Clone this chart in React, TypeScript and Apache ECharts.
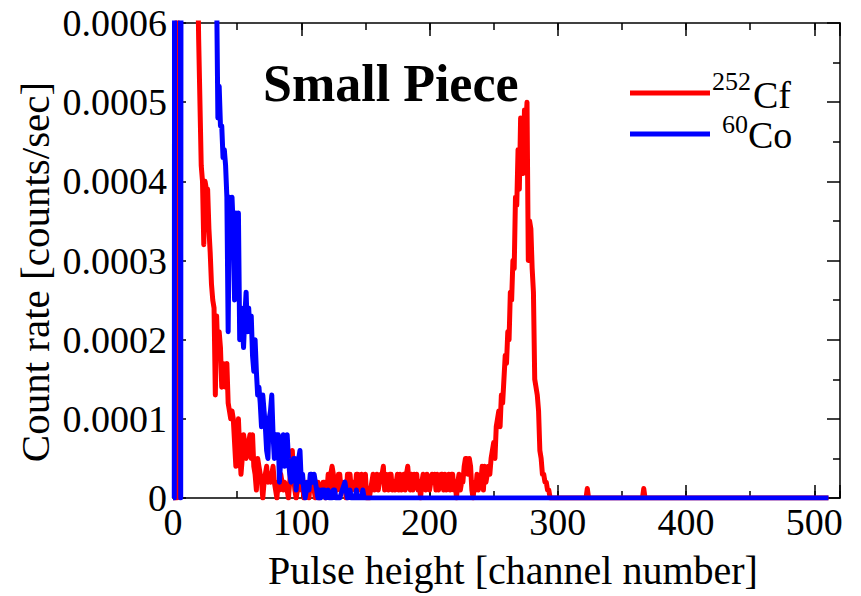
import React, { useEffect, useRef } from "react";
import * as echarts from "echarts";

// ---- data ----
const xTicks = [0, 100, 200, 300, 400, 500];
const yTicks = [0, 0.0001, 0.0002, 0.0003, 0.0004, 0.0005, 0.0006];

// 252Cf: [channel, count rate]
const cfSpectrum: [number, number][] = [
  [0, 0], [3, 0], [4, 0.003], [17, 0.0009], [20, 0.00058], [21, 0.0005], [22, 0.00042], [23, 0.0004],
  [24, 0.00032], [25, 0.0004], [26, 0.00039], [27, 0.00039], [28, 0.00034], [29, 0.00031], [30, 0.00027],
  [31, 0.00025], [32, 0.00024], [33, 0.00013], [34, 0.00023], [35, 0.00018], [36, 0.00021], [37, 0.00019],
  [38, 0.00014], [39, 0.00017], [40, 0.00016], [41, 0.00014], [42, 0.00017], [43, 0.00012], [44, 0.00011],
  [45, 0.0001], [46, 0.00011], [47, 0.0001], [48, 0.00007], [49, 0.00004], [50, 0.00006], [51, 0.0001],
  [52, 0.00006], [53, 0.00003], [54, 0.00005], [55, 0.00008], [56, 0.00007], [57, 0.00005], [58, 0.00006],
  [59, 0.00007], [60, 0.00008], [61, 0.00005], [62, 0.00008], [63, 0.00004], [64, 0.00003], [65, 0.00001],
  [66, 0.00005], [67, 0.00004], [68, 0.00003], [69, 0.00002], [70, 0], [71, 0.00002], [72, 0.00003],
  [73, 0.00004], [74, 0.00002], [75, 0.00003], [76, 0.00002], [77, 0.00003], [78, 0.00004], [79, 0.00002],
  [80, 0.00001], [81, 0], [82, 0.00002], [83, 0.00001], [84, 0.00003], [85, 0.00002], [86, 0.00001],
  [87, 0.00002], [88, 0.00001], [89, 0.00001], [90, 0], [91, 0.00002], [92, 0.00004], [93, 0.00006],
  [94, 0.00003], [95, 0.00001], [96, 0], [97, 0.00001], [98, 0.00002], [99, 0.00002], [100, 0.00001],
  [101, 0.00002], [102, 0], [103, 0.00001], [104, 0.00002], [105, 0.00001], [106, 0], [107, 0.00002],
  [108, 0.00001], [109, 0.00002], [110, 0.00001], [111, 0], [112, 0.00002], [113, 0.00002], [114, 0],
  [115, 0.00001], [116, 0.00001], [117, 0.00002], [118, 0.00002], [119, 0], [120, 0.00001], [121, 0.00003],
  [122, 0.00001], [123, 0.00003], [124, 0.00004], [125, 0.00003], [126, 0.00001], [127, 0.00002], [128, 0.00001],
  [129, 0.00003], [130, 0.00003], [131, 0.00001], [132, 0.00002], [133, 0.00001], [134, 0.00002], [135, 0],
  [136, 0.00003], [137, 0.00003], [138, 0.00003], [139, 0.00001], [140, 0.00002], [141, 0.00002],
  [142, 0.00001], [143, 0.00003], [144, 0.00003], [145, 0.00001], [146, 0.00002], [147, 0.00003],
  [148, 0.00002], [149, 0.00001], [150, 0.00003], [151, 0], [152, 0.00001], [153, 0], [154, 0.00001],
  [155, 0.00002], [156, 0.00003], [157, 0.00001], [158, 0.00002], [159, 0.00003], [160, 0.00001], [161, 0.00002],
  [162, 0.00003], [163, 0.00003], [164, 0.00004], [165, 0.00001], [166, 0.00003], [167, 0.00002],
  [168, 0.00001], [169, 0.00003], [170, 0.00003], [171, 0.00001], [172, 0.00002], [173, 0.00001], [174, 0.00002],
  [175, 0.00003], [176, 0.00001], [177, 0.00003], [178, 0.00001], [179, 0.00002], [180, 0.00003],
  [181, 0.00001], [182, 0.00003], [183, 0.00004], [184, 0.00002], [185, 0.00001], [186, 0.00003],
  [187, 0.00001], [188, 0.00003], [189, 0.00002], [190, 0.00003], [191, 0.00001], [192, 0.00002], [193, 0],
  [194, 0.00002], [195, 0.00003], [196, 0.00002], [197, 0.00001], [198, 0.00003], [199, 0.00002], [200, 0.00001],
  [201, 0.00002], [202, 0.00003], [203, 0.00002], [204, 0.00003], [205, 0.00001], [206, 0.00003], [207, 0.00001],
  [208, 0.00002], [209, 0.00003], [210, 0.00003], [211, 0.00001], [212, 0.00003], [213, 0.00001], [214, 0.00002],
  [215, 0.00003], [216, 0.00001], [217, 0.00003], [218, 0.00003], [219, 0.00001], [220, 0.00002], [221, 0],
  [222, 0.00002], [223, 0.00003], [224, 0.00001], [225, 0.00002], [226, 0.00002], [227, 0.00004], [228, 0.00005],
  [229, 0.00005], [230, 0.00003], [231, 0.00005], [232, 0.00004], [233, 0.00001], [234, 0], [235, 0.00002],
  [236, 0.00001], [237, 0.00003], [238, 0.00001], [239, 0.00002], [240, 0.00002], [241, 0.00004],
  [242, 0.00001], [243, 0.00004], [244, 0.00002], [245, 0.00003], [246, 0.00004], [247, 0.00003],
  [248, 0.00005], [249, 0.00006], [250, 0.00007], [251, 0.00005], [252, 0.00009], [253, 0.0001],
  [254, 0.00011], [255, 0.00009], [256, 0.00013], [257, 0.00012], [258, 0.00015], [259, 0.00018],
  [260, 0.00017], [261, 0.00021], [262, 0.0002], [263, 0.00026], [264, 0.00025], [265, 0.0003],
  [266, 0.00029], [267, 0.00038], [268, 0.00037], [269, 0.00044], [270, 0.00039], [271, 0.00048],
  [272, 0.00044], [273, 0.00041], [274, 0.00049], [275, 0.00047], [276, 0.0005], [277, 0.0003],
  [278, 0.00035], [279, 0.00034], [280, 0.00029], [281, 0.00026], [282, 0.00015], [283, 0.00014],
  [284, 0.00013], [285, 0.00011], [286, 0.00006], [287, 0.00005], [288, 0.00003], [289, 0.00003],
  [290, 0.00002], [291, 0.00002], [292, 0.00001], [293, 0.00001], [294, 0], [322, 0], [323, 0.000012],
  [324, 0], [366, 0], [367, 0.000012], [368, 0], [511, 0],
];

// 60Co: [channel, count rate]
const coSpectrum: [number, number][] = [
  [0, 0], [1, 0], [2, 0.003], [5, 0.003], [6, 0], [7, 0.003], [33, 0.0008], [35, 0.00048], [36, 0.00052],
  [37, 0.00047], [38, 0.00047], [39, 0.00043], [40, 0.00044], [41, 0.00042], [42, 0.00038], [43, 0.00021],
  [44, 0.00038], [45, 0.00037], [46, 0.00038], [47, 0.00034], [48, 0.00025], [49, 0.00036], [50, 0.00034],
  [51, 0.00036], [52, 0.0002], [53, 0.00024], [54, 0.00022], [55, 0.00019], [56, 0.00023], [57, 0.00026],
  [58, 0.00021], [59, 0.00024], [60, 0.00021], [61, 0.00023], [62, 0.00018], [63, 0.00016], [64, 0.0002],
  [65, 0.00016], [66, 0.00013], [67, 0.00014], [68, 0.00012], [69, 0.00009], [70, 0.00013], [71, 0.00011],
  [72, 0.00009], [73, 0.00006], [74, 0.00005], [75, 0.0001], [76, 0.00011], [77, 0.00013], [78, 0.00008],
  [79, 0.00005], [80, 0.00008], [81, 0.00008], [82, 0.00008], [83, 0.00002], [84, 0.00005], [85, 0.00007],
  [86, 0.00008], [87, 0.00004], [88, 0.00006], [89, 0.00008], [90, 0.00005], [91, 0.00003], [92, 0.00002],
  [93, 0.00004], [94, 0.00005], [95, 0.00005], [96, 0.00001], [97, 0.00003], [98, 0.00005], [99, 0.00006],
  [100, 0.00002], [101, 0.00003], [102, 0.00001], [103, 0], [104, 0.00001], [105, 0.00002], [106, 0.00001],
  [107, 0.00003], [108, 0.00003], [109, 0.00002], [110, 0.00003], [111, 0.00002], [112, 0.00001], [113, 0],
  [114, 0.00001], [115, 0], [116, 0.00001], [118, 0.00001], [119, 0], [121, 0.00001], [122, 0], [124, 0],
  [125, 0.00001], [126, 0.00001], [127, 0], [130, 0], [132, 0.00001], [134, 0.00002], [135, 0.00001],
  [136, 0], [138, 0.00001], [139, 0], [142, 0], [143, 0.00001], [144, 0], [147, 0], [148, 0.00001],
  [149, 0], [511, 0],
];

const seriesNames = ["252Cf", "60Co"];
const seriesColors = ["#ff0000", "#0000ff"];
const chartTitle = "Small Piece";
const xTitle = "Pulse height [channel number]";
const yTitle = "Count rate [counts/sec]";

const FONT = "'Liberation Serif', 'Times New Roman', serif";

export default function App() {
  const ref = useRef<HTMLDivElement>(null);
  useEffect(() => {
    if (!ref.current) return;
    const chart = echarts.init(ref.current, undefined, { renderer: "svg" });
    const black = "#000";
    const lineStyle = { color: black, width: 1.5 };
    const xBase = { type: "value" as const, min: 0, max: 520, splitLine: { show: false } };
    const yBase = { type: "value" as const, min: 0, max: 0.0006, interval: 0.0001, splitLine: { show: false } };
    chart.setOption({
      animation: false,
      backgroundColor: "#fff",
      grid: { left: 173, right: 21, top: 23, bottom: 98, containLabel: false },
      xAxis: [
        {
          ...xBase, position: "bottom", interval: 100,
          axisLine: { show: true, onZero: false, lineStyle },
          axisTick: { show: true, inside: true, length: 13, lineStyle },
          axisLabel: {
            show: true, margin: 5, color: black, fontFamily: FONT, fontSize: 38,
            formatter: (v: number) => (xTicks.indexOf(v) >= 0 ? String(v) : ""),
          },
        },
        {
          ...xBase, position: "bottom", interval: 50,
          axisLine: { show: false, onZero: false },
          axisTick: { show: true, inside: true, length: 7, lineStyle },
          axisLabel: { show: false },
        },
        {
          ...xBase, position: "top", interval: 100,
          axisLine: { show: true, onZero: false, lineStyle },
          axisTick: { show: true, inside: true, length: 13, lineStyle },
          axisLabel: { show: false },
        },
        {
          ...xBase, position: "top", interval: 50,
          axisLine: { show: false, onZero: false },
          axisTick: { show: true, inside: true, length: 7, lineStyle },
          axisLabel: { show: false },
        },
      ],
      yAxis: [
        {
          ...yBase, position: "left",
          axisLine: { show: true, onZero: false, lineStyle },
          axisTick: { show: true, inside: true, length: 13, lineStyle },
          minorTick: { show: true, splitNumber: 2, length: 7, lineStyle },
          axisLabel: {
            show: true, margin: 6, color: black, fontFamily: FONT, fontSize: 38,
            formatter: (v: number) => {
              const t = yTicks.find((k) => Math.abs(k - v) < 1e-9);
              if (t === undefined) return "";
              return t === 0 ? "0" : t.toFixed(4);
            },
          },
        },
        {
          ...yBase, position: "right",
          axisLine: { show: true, onZero: false, lineStyle },
          axisTick: { show: true, inside: true, length: 13, lineStyle },
          minorTick: { show: true, splitNumber: 2, length: 7, lineStyle },
          axisLabel: { show: false },
        },
      ],
      series: [
        {
          name: seriesNames[0], type: "line", data: cfSpectrum, xAxisIndex: 0, yAxisIndex: 0,
          showSymbol: false, symbol: "none", clip: true,
          lineStyle: { color: seriesColors[0], width: 5, join: "round" },
          z: 2,
        },
        {
          name: seriesNames[1], type: "line", data: coSpectrum, xAxisIndex: 0, yAxisIndex: 0,
          showSymbol: false, symbol: "none", clip: true,
          lineStyle: { color: seriesColors[1], width: 5, join: "round" },
          z: 3,
        },
      ],
      graphic: [
        {
          type: "text", left: 263, top: 57, z: 10,
          style: { text: chartTitle, fill: black, font: `bold 52px ${FONT}` },
        },
        {
          type: "text", x: 513, y: 570, z: 10,
          style: { text: xTitle, fill: black, font: `40px ${FONT}`, align: "center", verticalAlign: "middle" },
        },
        {
          type: "text", x: 35, y: 272, rotation: Math.PI / 2, z: 10,
          style: { text: yTitle, fill: black, font: `41px ${FONT}`, align: "center", verticalAlign: "middle" },
        },
        // legend
        { type: "line", z: 10, shape: { x1: 630, y1: 93, x2: 710, y2: 93 }, style: { stroke: seriesColors[0], lineWidth: 5 } },
        { type: "line", z: 10, shape: { x1: 630, y1: 134, x2: 710, y2: 134 }, style: { stroke: seriesColors[1], lineWidth: 5 } },
        { type: "text", x: 712, y: 81, z: 10, style: { text: "252", fill: black, font: `26px ${FONT}`, verticalAlign: "middle" } },
        { type: "text", x: 753, y: 95, z: 10, style: { text: "Cf", fill: black, font: `38px ${FONT}`, verticalAlign: "middle" } },
        { type: "text", x: 722, y: 124, z: 10, style: { text: "60", fill: black, font: `26px ${FONT}`, verticalAlign: "middle" } },
        { type: "text", x: 748, y: 135, z: 10, style: { text: "Co", fill: black, font: `38px ${FONT}`, verticalAlign: "middle" } },
      ],
    });
    return () => chart.dispose();
  }, []);
  return <div ref={ref} style={{ width: 861, height: 596, position: "absolute", left: 0, top: 0 }} />;
}
